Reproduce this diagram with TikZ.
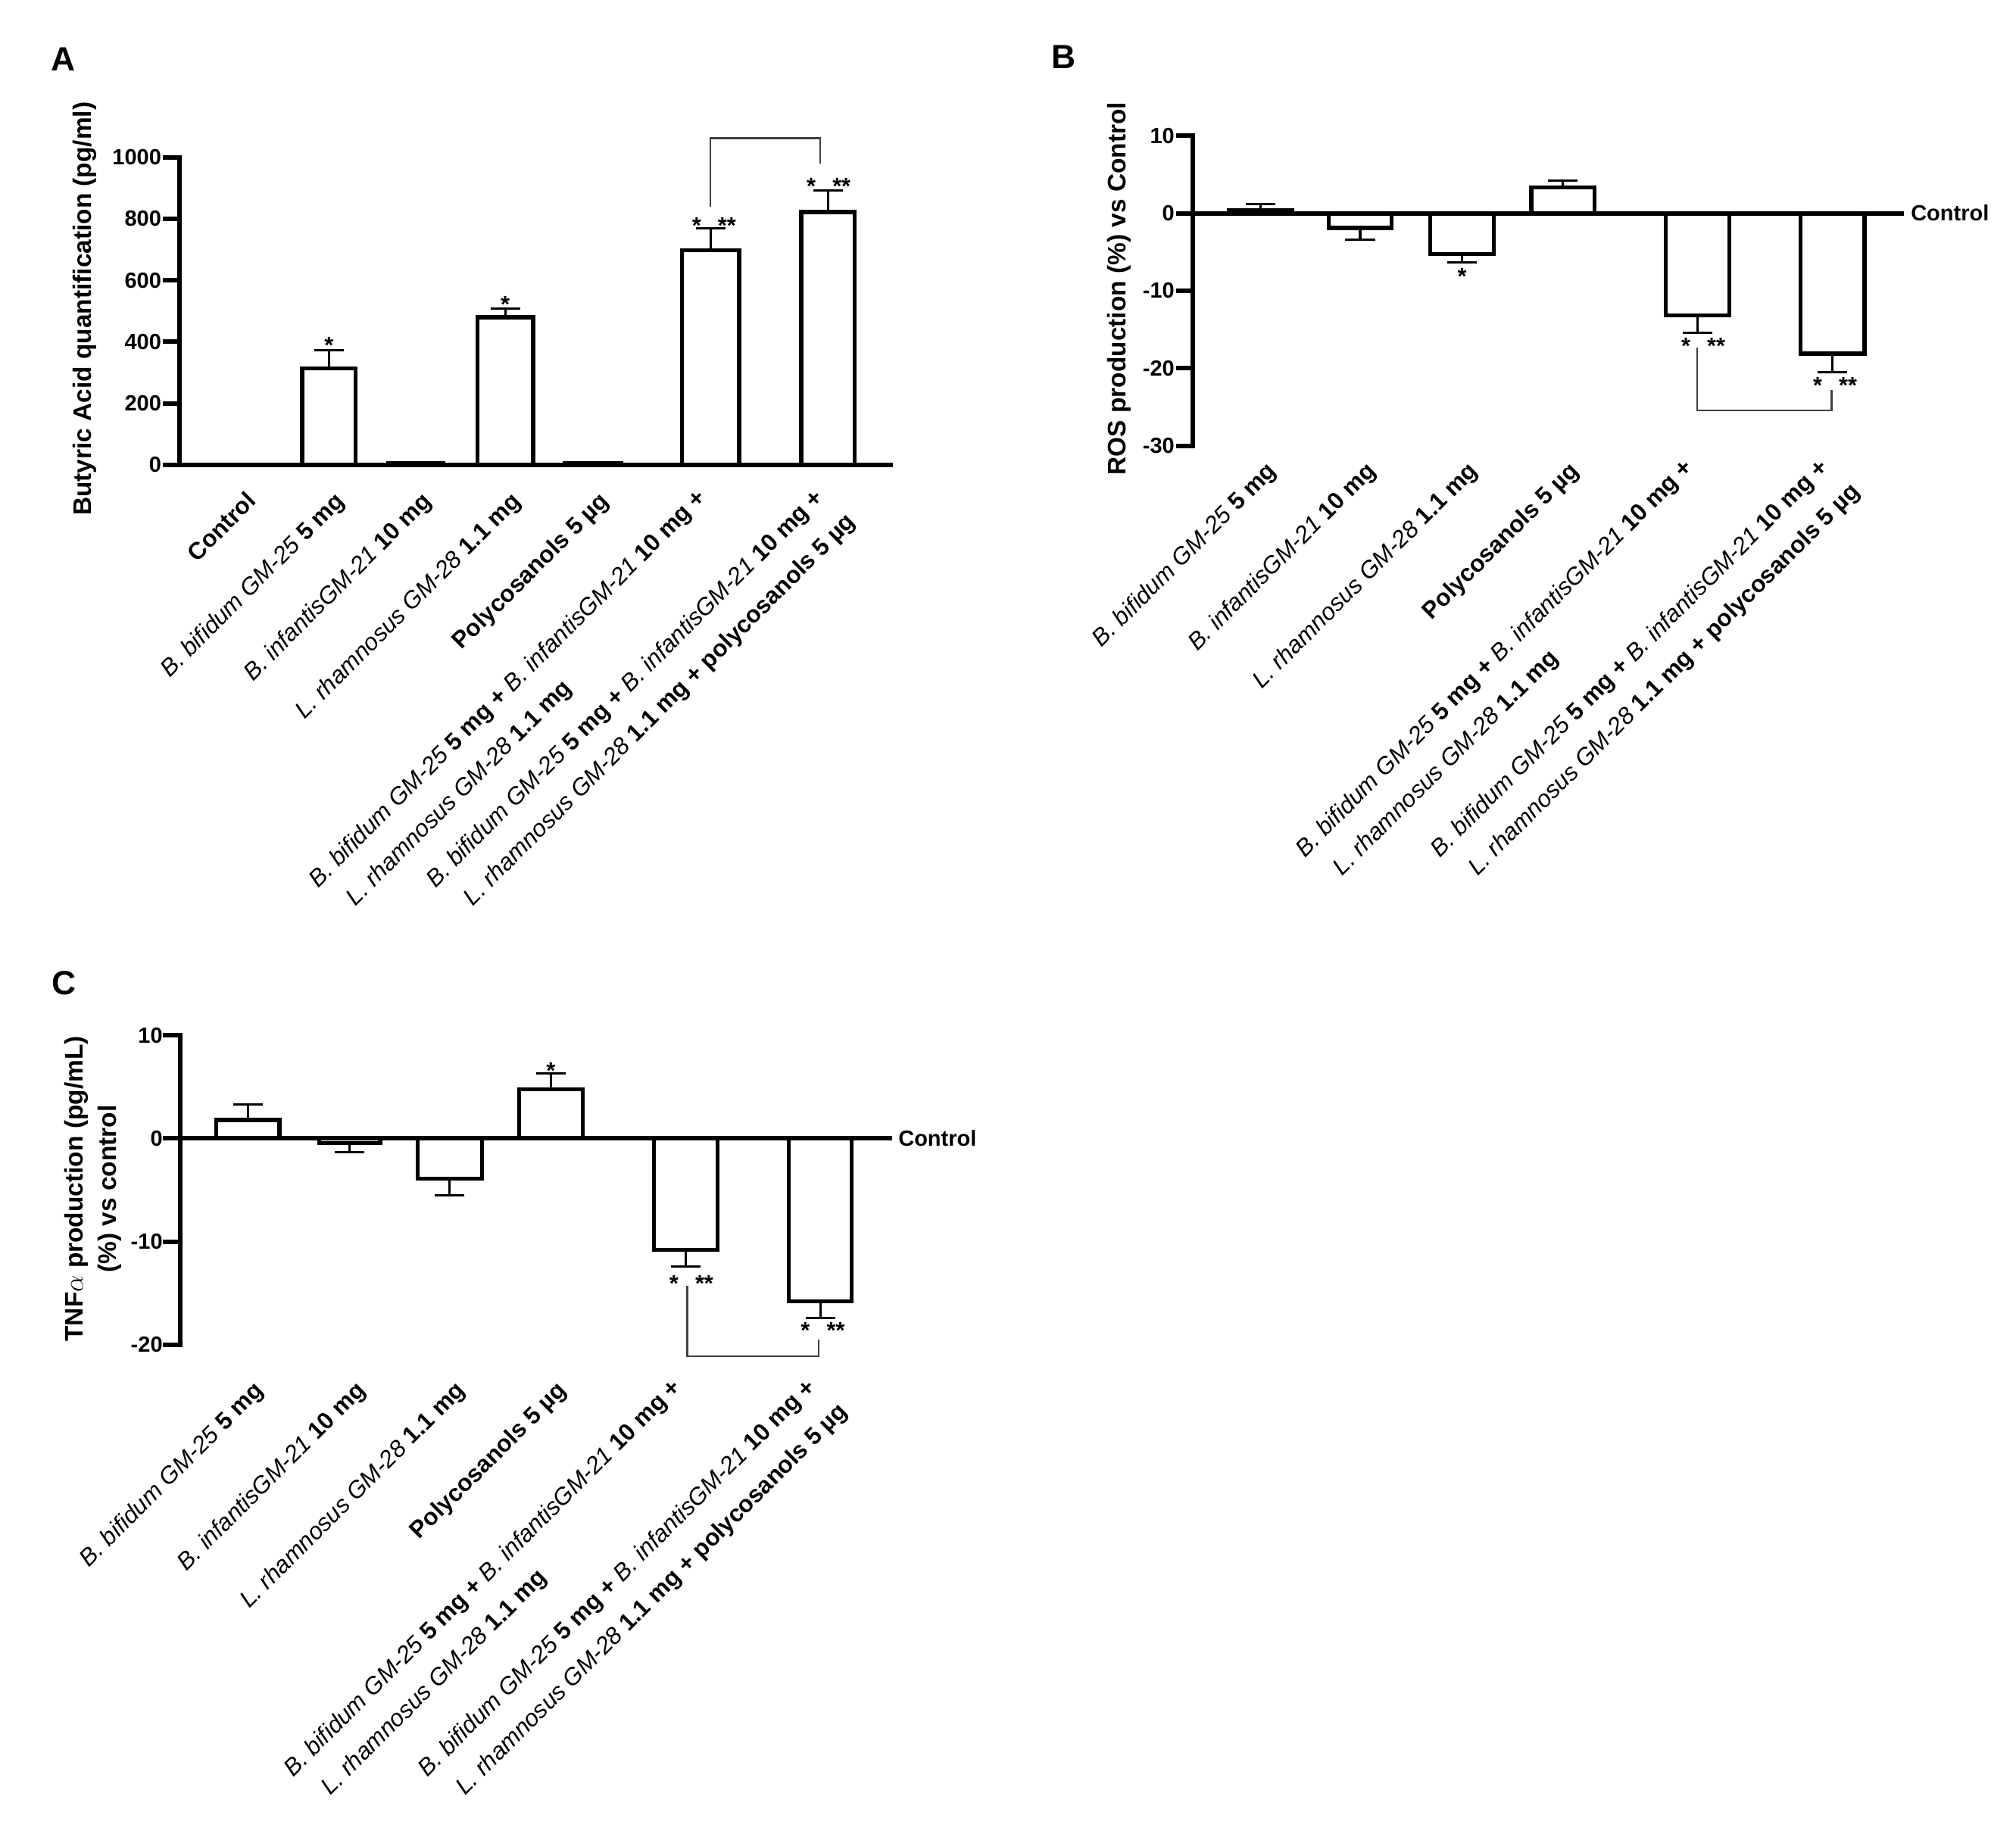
\documentclass[tikz,border=0pt]{standalone}
\usepackage{fontspec}
\setmainfont{Liberation Sans}

\tikzstyle{every node}=[inner sep=0pt]
\tikzstyle{axisline}=[line width=3.5pt, line cap=rect]
\tikzstyle{barbox}=[line width=3.1pt, fill=white]
\tikzstyle{errbar}=[line width=1.8pt]
\tikzstyle{bracket}=[line width=1.3pt, black!75]
\tikzstyle{panel}=[font=\fontsize{26}{30}\selectfont\bfseries]
\tikzstyle{ticklabel}=[anchor=east, font=\fontsize{17}{20}\selectfont\bfseries]
\tikzstyle{ylabel}=[rotate=90, align=center, font=\fontsize{19.6}{26}\selectfont\bfseries]
\tikzstyle{grouplabel}=[rotate=45, anchor=base east, font=\fontsize{18.5}{22}\selectfont]
\tikzstyle{nextline}=[rotate=45, anchor=base west, font=\fontsize{18.5}{22}\selectfont]
\tikzstyle{signif}=[font=\fontsize{18}{20}\selectfont\bfseries, yshift=-3.9pt]
\tikzstyle{ctrl}=[anchor=west, font=\fontsize{17}{20}\selectfont\bfseries]

\newcommand{\bifidum}{\textit{B. bifidum GM-25}}
\newcommand{\infantis}{\textit{B. infantisGM-21}}
\newcommand{\rhamnosus}{\textit{L. rhamnosus GM-28}}
\newcommand{\twostars}{*\hspace{13pt}**}
\newcommand{\drawbar}[4]{
	\draw[errbar] ({(#1+#2)/2},#3) -- ({(#1+#2)/2},#4);
	\draw[errbar] ({(#1+#2)/2-11.5},#4) -- ({(#1+#2)/2+11.5},#4);
	\draw[barbox] (#1,0) rectangle (#2,#3);
}

\begin{document}
\begin{tikzpicture}[x=1pt, y=-1pt]
		
		\fill[white] (0,0) rectangle (1560,1414.6);
		\useasboundingbox (0,0) rectangle (1560,1414.6);
		
		\node[panel] at (49.2,45.8) (pa) {A};
		\node[panel] at (823,44) (pb) {B};
		\node[panel] at (49.7,760.5) (pc) {C};
		
		\begin{scope}[yshift=-359.8pt, y=0.2381pt]
		\drawbar{233.9}{275}{314}{373}
		\drawbar{300.6}{343}{6}{9}
		\drawbar{369.5}{412.6}{480}{508}
		\drawbar{437}{481}{6}{9}
		\drawbar{527.8}{572}{697}{768}
		\drawbar{620}{661.5}{822}{893}
		\draw[bracket] (549.6,839) -- (549.6,1062) -- (634.7,1062) -- (634.7,980);
		\draw[axisline] (139,1000) -- (139,0);
		\draw[axisline] (128,0) -- (689,0);
		\foreach \v [count=\i] in {0,200,...,1000} {
			\draw[axisline] (128,\v) -- (139,\v);
			\node[ticklabel] at (125,\v) (ta\i) {\v};
		}
		\end{scope}
		
		\begin{scope}[yshift=-165pt, y=6pt]
		\drawbar{951}{1000}{0.35}{1.2}
		\drawbar{1028}{1077}{-1.9}{-3.4}
		\drawbar{1106.8}{1156}{-5.3}{-6.3}
		\drawbar{1184.9}{1234}{3.3}{4.2}
		\drawbar{1289}{1338}{-13.2}{-15.4}
		\drawbar{1393.3}{1442.7}{-18.1}{-20.5}
		\draw[bracket] (1313.3,-17.3) -- (1313.3,-25.4) -- (1417.3,-25.4) -- (1417.3,-22.8);
		\draw[axisline] (923,10) -- (923,-30);
		\draw[axisline] (912,0) -- (1471.4,0);
		\foreach \v [count=\i] in {-30,-20,...,10} {
			\draw[axisline] (912,\v) -- (923,\v);
			\node[ticklabel] at (909,\v) (tb\i) {\v};
		}
		\end{scope}
		
		\begin{scope}[yshift=-881pt, y=7.98pt]
		\drawbar{167.5}{216.2}{1.8}{3.3}
		\drawbar{247}{294.2}{-0.45}{-1.3}
		\drawbar{323}{372.8}{-3.9}{-5.5}
		\drawbar{401.6}{450.8}{4.75}{6.3}
		\drawbar{506}{555.2}{-10.8}{-12.4}
		\drawbar{610.4}{659.1}{-15.8}{-17.4}
		\draw[bracket] (531.8,-14.3) -- (531.8,-21.1) -- (633.7,-21.1) -- (633.7,-19.5);
		\draw[axisline] (139.2,10) -- (139.2,-20);
		\draw[axisline] (128,0) -- (688.4,0);
		\foreach \v [count=\i] in {-20,-10,0,10} {
			\draw[axisline] (128,\v) -- (139.2,\v);
			\node[ticklabel] at (126,\v) (tc\i) {\v};
		}
		\end{scope}
		
		\node[ylabel] at (65.4,239) (ya) {Butyric Acid quantification (pg/ml)};
		\node[ylabel] at (866,223.4) (yb) {ROS production (\%) vs Control};
		\node[ylabel] at (72,920) (yc) {TNF$\alpha$ production (pg/mL)\\(\%) vs control};
		
		\node[ctrl] at (1478.5,165) (cb) {Control};
		\node[ctrl] at (695,881) (cc) {Control};
		
		\node[signif] at (254.6,263) (sa2) {*};
		\node[signif] at (391,231.5) (sa4) {*};
		\node[signif] at (552.5,170.6) (sa6) {\twostars};
		\node[signif] at (641.2,140) (sa7) {\twostars};
		\node[signif] at (1131.4,210) (sb3) {*};
		\node[signif] at (1318,264) (sb5) {\twostars};
		\node[signif] at (1420,294.2) (sb6) {\twostars};
		\node[signif] at (426.2,824.5) (sc4) {*};
		\node[signif] at (535,989.4) (sc5) {\twostars};
		\node[signif] at (636.7,1025.7) (sc6) {\twostars};
		
		\node[grouplabel] at (199.2,388.8) (la1) {\textbf{Control}};
		\node[grouplabel] at (267.5,388.8) (la2) {\bifidum{} \textbf{5 mg}};
		\node[grouplabel] at (334.8,388.8) (la3) {\infantis{} \textbf{10 mg}};
		\node[grouplabel] at (404,388.8) (la4) {\rhamnosus{} \textbf{1.1 mg}};
		\node[grouplabel] at (472,388.8) (la5) {\textbf{Polycosanols 5 µg}};
		\node[grouplabel] at (547.4,386.3) (la6) {\bifidum{} \textbf{5 mg + }\infantis{} \textbf{10 mg +}};
		\node[nextline] at ([shift={(29,14)}]la6.base west) (la6b) {\rhamnosus{} \textbf{1.1 mg}};
		\node[grouplabel] at (638.2,386.3) (la7) {\bifidum{} \textbf{5 mg + }\infantis{} \textbf{10 mg +}};
		\node[nextline] at ([shift={(29,14)}]la7.base west) (la7b) {\rhamnosus{} \textbf{1.1 mg + polycosanols 5 µg}};
		
		\node[grouplabel] at (988.5,365.4) (lb1) {\bifidum{} \textbf{5 mg}};
		\node[grouplabel] at (1065.5,365.4) (lb2) {\infantis{} \textbf{10 mg}};
		\node[grouplabel] at (1144.4,365.4) (lb3) {\rhamnosus{} \textbf{1.1 mg}};
		\node[grouplabel] at (1222.5,365.4) (lb4) {\textbf{Polycosanols 5 µg}};
		\node[grouplabel] at (1311,362.9) (lb5) {\bifidum{} \textbf{5 mg + }\infantis{} \textbf{10 mg +}};
		\node[nextline] at ([shift={(29,14)}]lb5.base west) (lb5b) {\rhamnosus{} \textbf{1.1 mg}};
		\node[grouplabel] at (1415.5,362.9) (lb6) {\bifidum{} \textbf{5 mg + }\infantis{} \textbf{10 mg +}};
		\node[nextline] at ([shift={(29,14)}]lb6.base west) (lb6b) {\rhamnosus{} \textbf{1.1 mg + polycosanols 5 µg}};
		
		\node[grouplabel] at (204.9,1077.1) (lc1) {\bifidum{} \textbf{5 mg}};
		\node[grouplabel] at (283.6,1077.1) (lc2) {\infantis{} \textbf{10 mg}};
		\node[grouplabel] at (360.9,1077.1) (lc3) {\rhamnosus{} \textbf{1.1 mg}};
		\node[grouplabel] at (439.2,1077.1) (lc4) {\textbf{Polycosanols 5 µg}};
		\node[grouplabel] at (528.1,1074.6) (lc5) {\bifidum{} \textbf{5 mg + }\infantis{} \textbf{10 mg +}};
		\node[nextline] at ([shift={(29,14)}]lc5.base west) (lc5b) {\rhamnosus{} \textbf{1.1 mg}};
		\node[grouplabel] at (632.25,1074.6) (lc6) {\bifidum{} \textbf{5 mg + }\infantis{} \textbf{10 mg +}};
		\node[nextline] at ([shift={(29,14)}]lc6.base west) (lc6b) {\rhamnosus{} \textbf{1.1 mg + polycosanols 5 µg}};
		
\end{tikzpicture}
\end{document}
